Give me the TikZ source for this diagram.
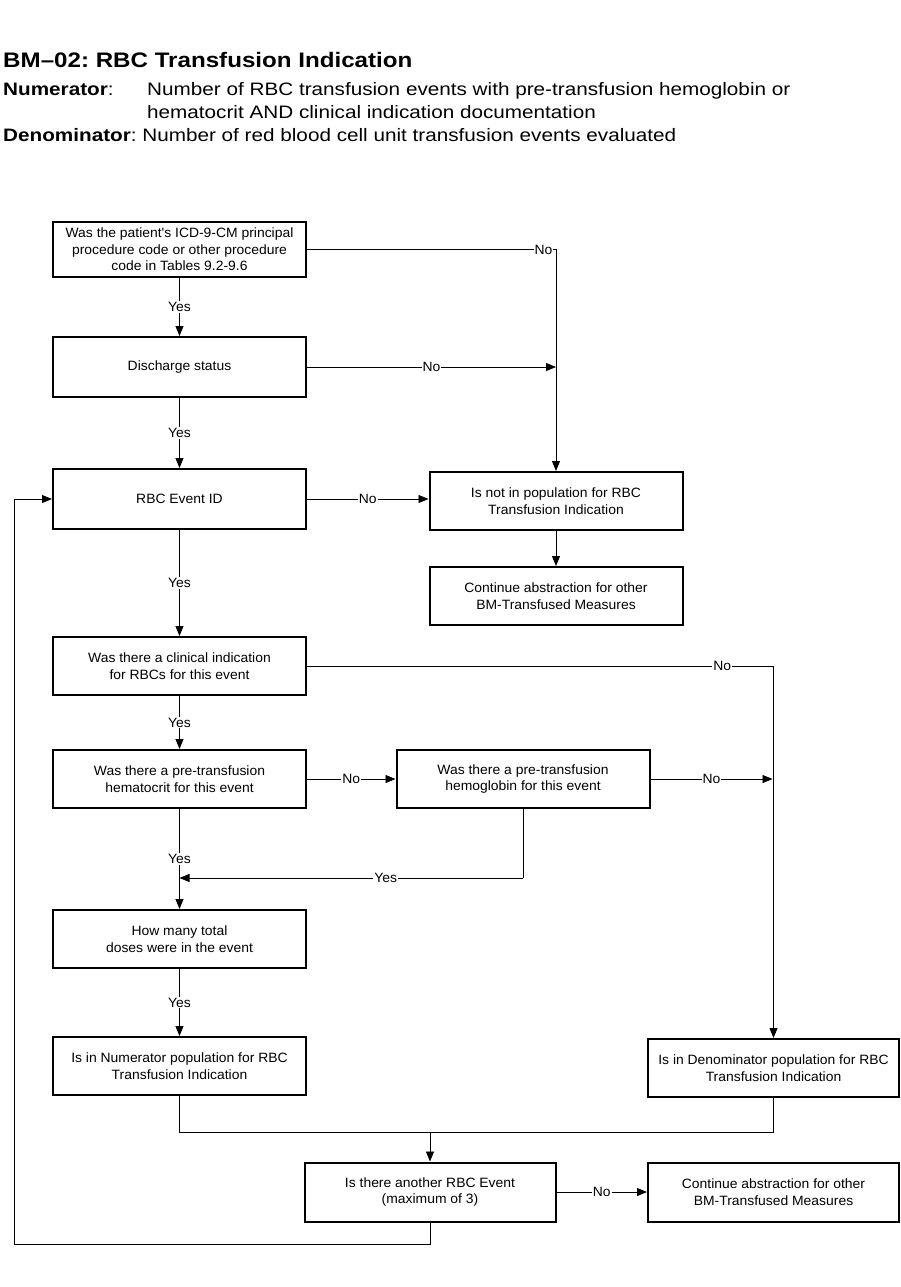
\documentclass[tikz,border=0pt]{standalone}
\usepackage{fontspec}
\setmainfont{Liberation Sans}
\newfontfamily\hdrfont[FakeStretch=1.15]{Liberation Sans}
\newfontfamily\boxfont[FakeStretch=1.03]{Liberation Sans}
\usetikzlibrary{arrows.meta}
\frenchspacing
\begin{document}
\begin{tikzpicture}[x=1pt,y=-1pt,
  box/.style={draw, line width=2pt, minimum width=253pt, minimum height=58pt, align=center, inner sep=0pt, font=\boxfont\fontsize{13.5}{16.5}\selectfont},
  conn/.style={line width=0.8pt},
  arr/.style={conn, -{Triangle[length=10pt,width=8pt]}},
  lbl/.style={fill=white, inner sep=1pt, font=\boxfont\fontsize{13.5}{15}\selectfont},
  hdr/.style={anchor=base west, inner sep=0pt, font=\hdrfont\fontsize{18}{21}\selectfont}]
\useasboundingbox (0,0) rectangle (901,1287);
% header
\node[hdr, font=\hdrfont\bfseries\fontsize{21}{24}\selectfont] (title) at (3,68) {BM–02: RBC Transfusion Indication};
\node[hdr] (numl) at (3,96) {\textbf{Numerator}:};
\node[hdr] (numt1) at (147,96) {Number of RBC transfusion events with pre-transfusion hemoglobin or};
\node[hdr] (numt2) at (147,119) {hematocrit AND clinical indication documentation};
\node[hdr] (den) at (3,142) {\textbf{Denominator}: Number of red blood cell unit transfusion events evaluated};
% boxes
\node[box, minimum height=55pt] (b1) at (179.5,249.5) {Was the patient's ICD-9-CM principal\\procedure code or other procedure\\code in Tables 9.2-9.6};
\node[box, minimum height=60pt] (b2) at (179.5,367) {Discharge status};
\node[box, minimum height=60pt] (b3) at (179.5,499) {RBC Event ID};
\node[box] (b4) at (556,501) {Is not in population for RBC\\Transfusion Indication};
\node[box] (b5) at (556,596) {Continue abstraction for other\\BM-Transfused Measures};
\node[box] (b6) at (179.5,666) {Was there a clinical indication\\for RBCs for this event};
\node[box] (b7) at (179.5,779) {Was there a pre-transfusion\\hematocrit for this event};
\node[box] (b8) at (523,779) {Was there a pre-transfusion\\hemoglobin for this event};
\node[box] (b9) at (179.5,939) {How many total\\doses were in the event};
\node[box] (b10) at (179.5,1066) {Is in Numerator population for RBC\\Transfusion Indication};
\node[box, minimum width=251pt] (b11) at (773.5,1068) {Is in Denominator population for RBC\\Transfusion Indication};
\node[box, minimum width=251pt, minimum height=59pt] (b12) at (430,1192) {Is there another RBC Event\\(maximum of 3)};
\node[box, minimum width=251pt, minimum height=59pt] (b13) at (773.5,1192) {Continue abstraction for other\\BM-Transfused Measures};
% helper coordinates
\coordinate (c1) at (b4.north |- b1.east);
\coordinate (c2) at (b4.north |- b2.east);
\coordinate (c3) at (b4.west |- b3.east);
\coordinate (c6) at (b11.north |- b6.east);
\coordinate (c8) at (b11.north |- b8.east);
\coordinate (c8y) at (b8.south |- 0,878);
\coordinate (c7y) at (b7.south |- 0,878);
\coordinate (m10) at (b10.south |- 0,1132);
\coordinate (m11) at (b11.south |- 0,1132);
\coordinate (m12) at (b12.north |- 0,1132);
\coordinate (l1) at (b12.south |- 0,1244);
\coordinate (l2) at (14,1244);
\coordinate (l3) at (14,499);
% connectors
\draw[arr] (b1.east) -- node[lbl, pos=0.95] {No} (c1) -- (b4.north);
\draw[arr] (b2.east) -- node[lbl] {No} (c2);
\draw[arr] (b1.south) -- node[lbl] {Yes} (b2.north);
\draw[arr] (b2.south) -- node[lbl] {Yes} (b3.north);
\draw[arr] (b3.east) -- node[lbl] {No} (c3);
\draw[arr] (b4.south) -- (b5.north);
\draw[arr] (b3.south) -- node[lbl] {Yes} (b6.north);
\draw[arr] (b6.east) -- node[lbl, pos=0.89] {No} (c6) -- (b11.north);
\draw[arr] (b6.south) -- node[lbl] {Yes} (b7.north);
\draw[arr] (b7.east) -- node[lbl] {No} (b8.west);
\draw[arr] (b8.east) -- node[lbl] {No} ([xshift=-1pt]c8);
\draw[conn] (b8.south) -- (c8y);
\draw[arr] (c8y) -- node[lbl, pos=0.4] {Yes} (c7y);
\draw[arr] (b7.south) -- node[lbl, pos=0.5] {Yes} (b9.north);
\draw[arr] (b9.south) -- node[lbl] {Yes} (b10.north);
\draw[conn] (b10.south) -- (m10) -- (m11) -- (b11.south);
\draw[arr] (m12) -- (b12.north);
\draw[arr] (b12.east) -- node[lbl] {No} (b13.west);
\draw[arr] (b12.south) -- (l1) -- (l2) -- (l3) -- (b3.west);
\end{tikzpicture}
\end{document}
